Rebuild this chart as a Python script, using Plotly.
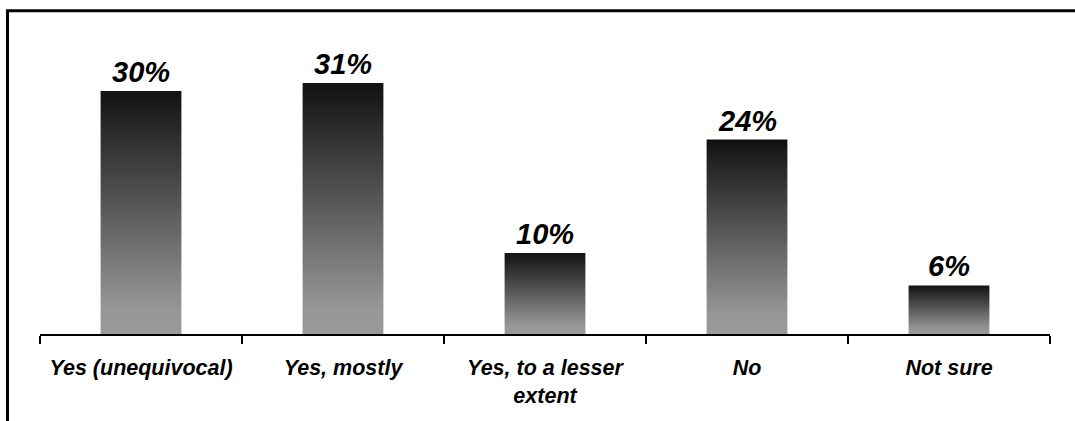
import plotly.graph_objects as go

# Survey responses
categories = ["Yes (unequivocal)", "Yes, mostly", "Yes, to a lesser<br>extent", "No", "Not sure"]
percentages = [30, 31, 10, 24, 6]

BAR_HALF = 0.2
FONT = "Liberation Sans, Arial, sans-serif"
GRADIENT = [[0.0, "#999999"], [0.1, "#979797"], [1.0, "#111111"]]

fig = go.Figure()

# Each bar is a filled rectangle with its own vertical gradient (grey at the base, near-black at the top)
for i, v in enumerate(percentages):
    fig.add_trace(go.Scatter(
        x=[i - BAR_HALF, i + BAR_HALF, i + BAR_HALF, i - BAR_HALF, i - BAR_HALF],
        y=[0, 0, v, v, 0],
        mode="lines",
        line=dict(width=0, color="rgba(0,0,0,0)"),
        fill="toself",
        fillgradient=dict(type="vertical", colorscale=GRADIENT),
        hoverinfo="skip",
        showlegend=False,
    ))
    fig.add_annotation(
        x=i, y=v, text=f"{v}%", showarrow=False,
        xanchor="center", yanchor="bottom", yshift=1,
        font=dict(family=FONT, size=29, color="black", weight="bold", style="italic"),
    )

fig.update_layout(
    width=1075, height=421,
    margin=dict(l=40, r=25, t=20, b=87),
    paper_bgcolor="white", plot_bgcolor="white",
    xaxis=dict(
        range=[-0.5, len(categories) - 0.5],
        tickmode="array",
        tickvals=list(range(len(categories))),
        ticktext=categories,
        ticks="outside", ticklen=8, tickcolor="rgba(0,0,0,0)",
        ticklabelstandoff=5,
        tickfont=dict(family=FONT, size=21.5, color="black", weight="bold", style="italic"),
        showline=True, linecolor="black", linewidth=2,
        showgrid=False, zeroline=False, fixedrange=True,
        minor=dict(
            tickmode="array",
            tickvals=[k - 0.5 for k in range(len(categories) + 1)],
            ticks="outside", ticklen=8, tickwidth=2, tickcolor="black",
            showgrid=False,
        ),
    ),
    yaxis=dict(
        range=[0, 38.77], visible=False, showgrid=False, zeroline=False, fixedrange=True,
    ),
    shapes=[
        # outer frame (top and left edges visible)
        dict(type="rect", xref="paper", yref="paper",
             x0=-0.0322, x1=1.2, y0=-0.5, y1=1.0296,
             line=dict(color="black", width=3), fillcolor="rgba(0,0,0,0)", layer="above"),
    ],
)

fig.write_html("out.html")
